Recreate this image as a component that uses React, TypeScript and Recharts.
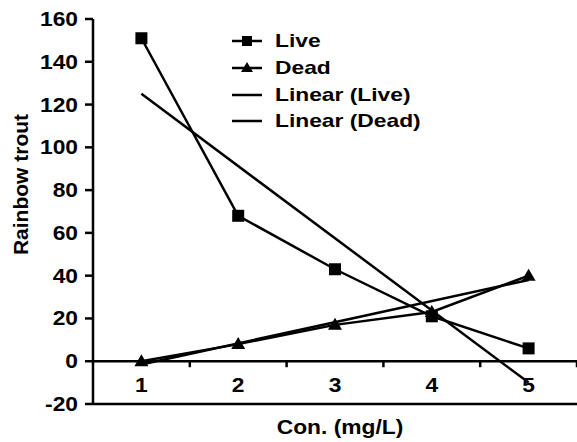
import { LineChart, Line, XAxis, YAxis, ReferenceLine, Legend } from 'recharts';

// values
const concentrations = [1, 2, 3, 4, 5];
const liveCounts = [151, 68, 43, 21, 6];
const deadCounts = [0, 8, 17, 23, 40];

// trend line end points (at con. 1 and 5)
const trendConcentrations = [1, 5];
const liveTrend = [125, -10];
const deadTrend = [-1.5, 38];

const yTicks = [-20, 0, 20, 40, 60, 80, 100, 120, 140, 160];
const xTickMarks = [1.5, 2.5, 3.5, 4.5, 5.5];
const legendOrder = ['Live', 'Dead', 'Linear (Live)', 'Linear (Dead)'];

const observed = concentrations.map((c, i) => ({ con: c, live: liveCounts[i], dead: deadCounts[i] }));
const trend = trendConcentrations.map((c, i) => ({ con: c, liveFit: liveTrend[i], deadFit: deadTrend[i] }));

const FONT = '"Liberation Sans", Arial, sans-serif';
// the original text is a bit wider than Arial
const STRETCH = 1.14;
const LINE_W = 2.5;

const SquareDot = (props: any) => {
  const { cx, cy, index } = props;
  return <rect key={`sq-${index}`} x={cx - 6} y={cy - 6} width={12} height={12} fill="#000" />;
};

const TriangleDot = (props: any) => {
  const { cx, cy, index } = props;
  return (
    <polygon
      key={`tri-${index}`}
      points={`${cx},${cy - 7} ${cx + 7},${cy + 5} ${cx - 7},${cy + 5}`}
      fill="#000"
    />
  );
};

const WideText = ({ x, y, anchor, size, children }: any) => (
  <text
    transform={`translate(${x} ${y}) scale(${STRETCH} 1)`}
    textAnchor={anchor}
    fontFamily={FONT}
    fontSize={size}
    fontWeight="bold"
    fill="#000"
  >
    {children}
  </text>
);

const XTick = (props: any) => {
  const { x, y, payload } = props;
  return (
    <WideText x={x} y={y - 20} anchor="middle" size={20}>
      {payload.value}
    </WideText>
  );
};

const YTick = (props: any) => {
  const { x, y, payload } = props;
  return (
    <WideText x={x} y={y + 7} anchor="end" size={20}>
      {payload.value}
    </WideText>
  );
};

const markerFor: Record<string, string> = { live: 'square', dead: 'triangle', liveFit: 'none', deadFit: 'none' };

const renderLegend = (props: any) => {
  const items = [...(props.payload || [])].sort(
    (a: any, b: any) => legendOrder.indexOf(a.value) - legendOrder.indexOf(b.value)
  );
  return (
    <div style={{ fontFamily: FONT }}>
      {items.map((entry: any) => {
        const marker = markerFor[entry.dataKey];
        return (
          <div key={entry.value} style={{ display: 'flex', alignItems: 'center', height: 26.7 }}>
            <svg width={32} height={16}>
              <line x1={1} y1={8} x2={31} y2={8} stroke="#000" strokeWidth={LINE_W} />
              {marker === 'square' && <rect x={11} y={3} width={10} height={10} fill="#000" />}
              {marker === 'triangle' && <polygon points="16,2 22,12 10,12" fill="#000" />}
            </svg>
            <span
              style={{
                marginLeft: 12,
                fontSize: 19,
                fontWeight: 'bold',
                color: '#000',
                display: 'inline-block',
                transform: `scaleX(1.2)`,
                transformOrigin: 'left center',
                whiteSpace: 'nowrap',
              }}
            >
              {entry.value}
            </span>
          </div>
        );
      })}
    </div>
  );
};

export default function App() {
  return (
    <div style={{ position: 'absolute', left: 0, top: 0, width: 577, height: 442, background: '#fff' }}>
      <LineChart width={577} height={442} data={observed} margin={{ top: 19, right: 0, bottom: 0, left: 0 }}>
        <XAxis
          dataKey="con"
          type="number"
          domain={[0.5, 5.5]}
          ticks={concentrations}
          height={38}
          axisLine={{ stroke: '#000', strokeWidth: LINE_W }}
          tickLine={false}
          tick={<XTick />}
          label={{
            content: (p: any) => {
              const vb = p.viewBox;
              return (
                <WideText x={vb.x + vb.width / 2 + 5} y={vb.y + vb.height - 8} anchor="middle" size={20}>
                  Con. (mg/L)
                </WideText>
              );
            },
          }}
        />
        <YAxis
          domain={[-20, 160]}
          ticks={yTicks}
          width={93}
          axisLine={{ stroke: '#000', strokeWidth: LINE_W }}
          tickLine={{ stroke: '#000', strokeWidth: LINE_W }}
          tickSize={8}
          tickMargin={7}
          tick={<YTick />}
          label={{
            content: (p: any) => {
              const vb = p.viewBox;
              const cx = 20;
              const cy = vb.y + vb.height / 2 - 27;
              return (
                <text
                  x={cx}
                  y={cy}
                  transform={`rotate(-90 ${cx} ${cy})`}
                  textAnchor="middle"
                  dominantBaseline="central"
                  fontFamily={FONT}
                  fontSize={21}
                  fontWeight="bold"
                  fill="#000"
                >
                  Rainbow trout
                </text>
              );
            },
          }}
        />
        <ReferenceLine y={0} stroke="#000" strokeWidth={LINE_W} />
        {xTickMarks.map((t) => (
          <ReferenceLine
            key={t}
            segment={[{ x: t, y: 0 }, { x: t, y: -2.8 }]}
            stroke="#000"
            strokeWidth={LINE_W}
            ifOverflow="visible"
          />
        ))}
        <Legend
          layout="vertical"
          align="center"
          verticalAlign="middle"
          content={renderLegend}
          wrapperStyle={{ left: 231, top: 28, width: 230 }}
        />
        <Line
          data={trend}
          dataKey="liveFit"
          name="Linear (Live)"
          stroke="#000"
          strokeWidth={LINE_W}
          dot={false}
          activeDot={false}
          isAnimationActive={false}
        />
        <Line
          data={trend}
          dataKey="deadFit"
          name="Linear (Dead)"
          stroke="#000"
          strokeWidth={LINE_W}
          dot={false}
          activeDot={false}
          isAnimationActive={false}
        />
        <Line
          dataKey="live"
          name="Live"
          stroke="#000"
          strokeWidth={LINE_W}
          dot={SquareDot}
          activeDot={false}
          isAnimationActive={false}
        />
        <Line
          dataKey="dead"
          name="Dead"
          stroke="#000"
          strokeWidth={LINE_W}
          dot={TriangleDot}
          activeDot={false}
          isAnimationActive={false}
        />
      </LineChart>
    </div>
  );
}
